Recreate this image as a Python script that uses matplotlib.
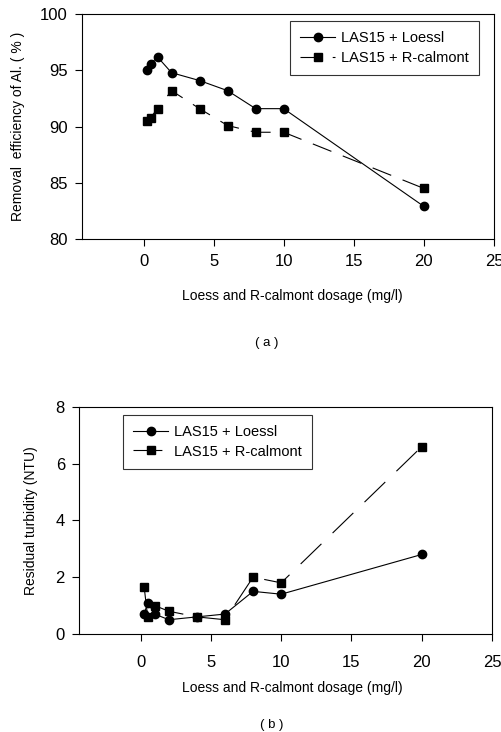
import matplotlib.pyplot as plt

plt.rcParams['font.family'] = ['Liberation Sans', 'DejaVu Sans']

# dosage (mg/l)
dosage = [0.25, 0.5, 1, 2, 4, 6, 8, 10, 20]

# (a) removal efficiency of Al (%)
eff_loess = [95.0, 95.6, 96.2, 94.8, 94.1, 93.2, 91.6, 91.6, 82.9]
eff_calmont = [90.5, 90.8, 91.6, 93.2, 91.6, 90.1, 89.5, 89.5, 84.5]

# (b) residual turbidity (NTU)
turb_loess = [0.7, 1.1, 0.7, 0.5, 0.6, 0.7, 1.5, 1.4, 2.8]
turb_calmont = [1.65, 0.6, 1.0, 0.8, 0.6, 0.5, 2.0, 1.8, 6.6]

lab_loess = "LAS15 + Loessl"
lab_calmont = "LAS15 + R-calmont"
xlabel = "Loess and R-calmont dosage (mg/l)"

fig = plt.figure(figsize=(5.02, 7.32), dpi=100)
ax1 = fig.add_axes([0.163, 0.6735, 0.821, 0.307])
ax2 = fig.add_axes([0.157, 0.134, 0.823, 0.310])


def draw(ax, yl, yc, dash, xpad):
    ax.plot(dosage, yl, color='black', lw=0.8, marker='o', ms=6, label=lab_loess)
    ax.plot(dosage, yc, color='black', lw=0.8, marker='s', ms=5.5, dashes=dash,
            label=lab_calmont)
    ax.set_xlim(-4.4, 24.9)
    ax.set_xticks([0, 5, 10, 15, 20, 25])
    ax.tick_params(direction='out', length=5, width=0.8, labelsize=12)
    ax.tick_params(axis='y', pad=5)
    ax.tick_params(axis='x', pad=xpad)
    for s in ax.spines.values():
        s.set_linewidth(0.8)


def legend(ax, loc, anchor):
    leg = ax.legend(loc=loc, bbox_to_anchor=anchor, fontsize=10.5,
                    frameon=True, fancybox=False, edgecolor='black',
                    handlelength=2.4, handletextpad=0.4, borderpad=0.7,
                    labelspacing=0.37, borderaxespad=0)
    leg.get_frame().set_linewidth(0.8)


draw(ax1, eff_loess, eff_calmont, (18, 11), 5.5)
ax1.set_ylim(80, 100)
ax1.set_yticks([80, 85, 90, 95, 100])
ax1.set_ylabel("Removal  efficiency of Al. ( % )", fontsize=10)
ax1.yaxis.set_label_coords(-0.138, 0.5)
ax1.set_xlabel(xlabel, fontsize=10)
ax1.xaxis.set_label_coords(0.511, -0.222)
legend(ax1, 'upper right', (0.964, 0.969))

draw(ax2, turb_loess, turb_calmont, (26, 14), 10.5)
ax2.set_ylim(0, 8)
ax2.set_yticks([0, 2, 4, 6, 8])
ax2.set_ylabel("Residual turbidity (NTU)", fontsize=10)
ax2.yaxis.set_label_coords(-0.099, 0.5)
ax2.set_xlabel(xlabel, fontsize=10)
ax2.xaxis.set_label_coords(0.517, -0.207)
legend(ax2, 'upper left', (0.107, 0.965))

fig.text(0.532, 1 - 343 / 732, "( a )", ha='center', va='center', fontsize=9.5)
fig.text(0.542, 1 - 725 / 732, "( b )", ha='center', va='center', fontsize=9.5)

fig.savefig("out.png", dpi=100)
